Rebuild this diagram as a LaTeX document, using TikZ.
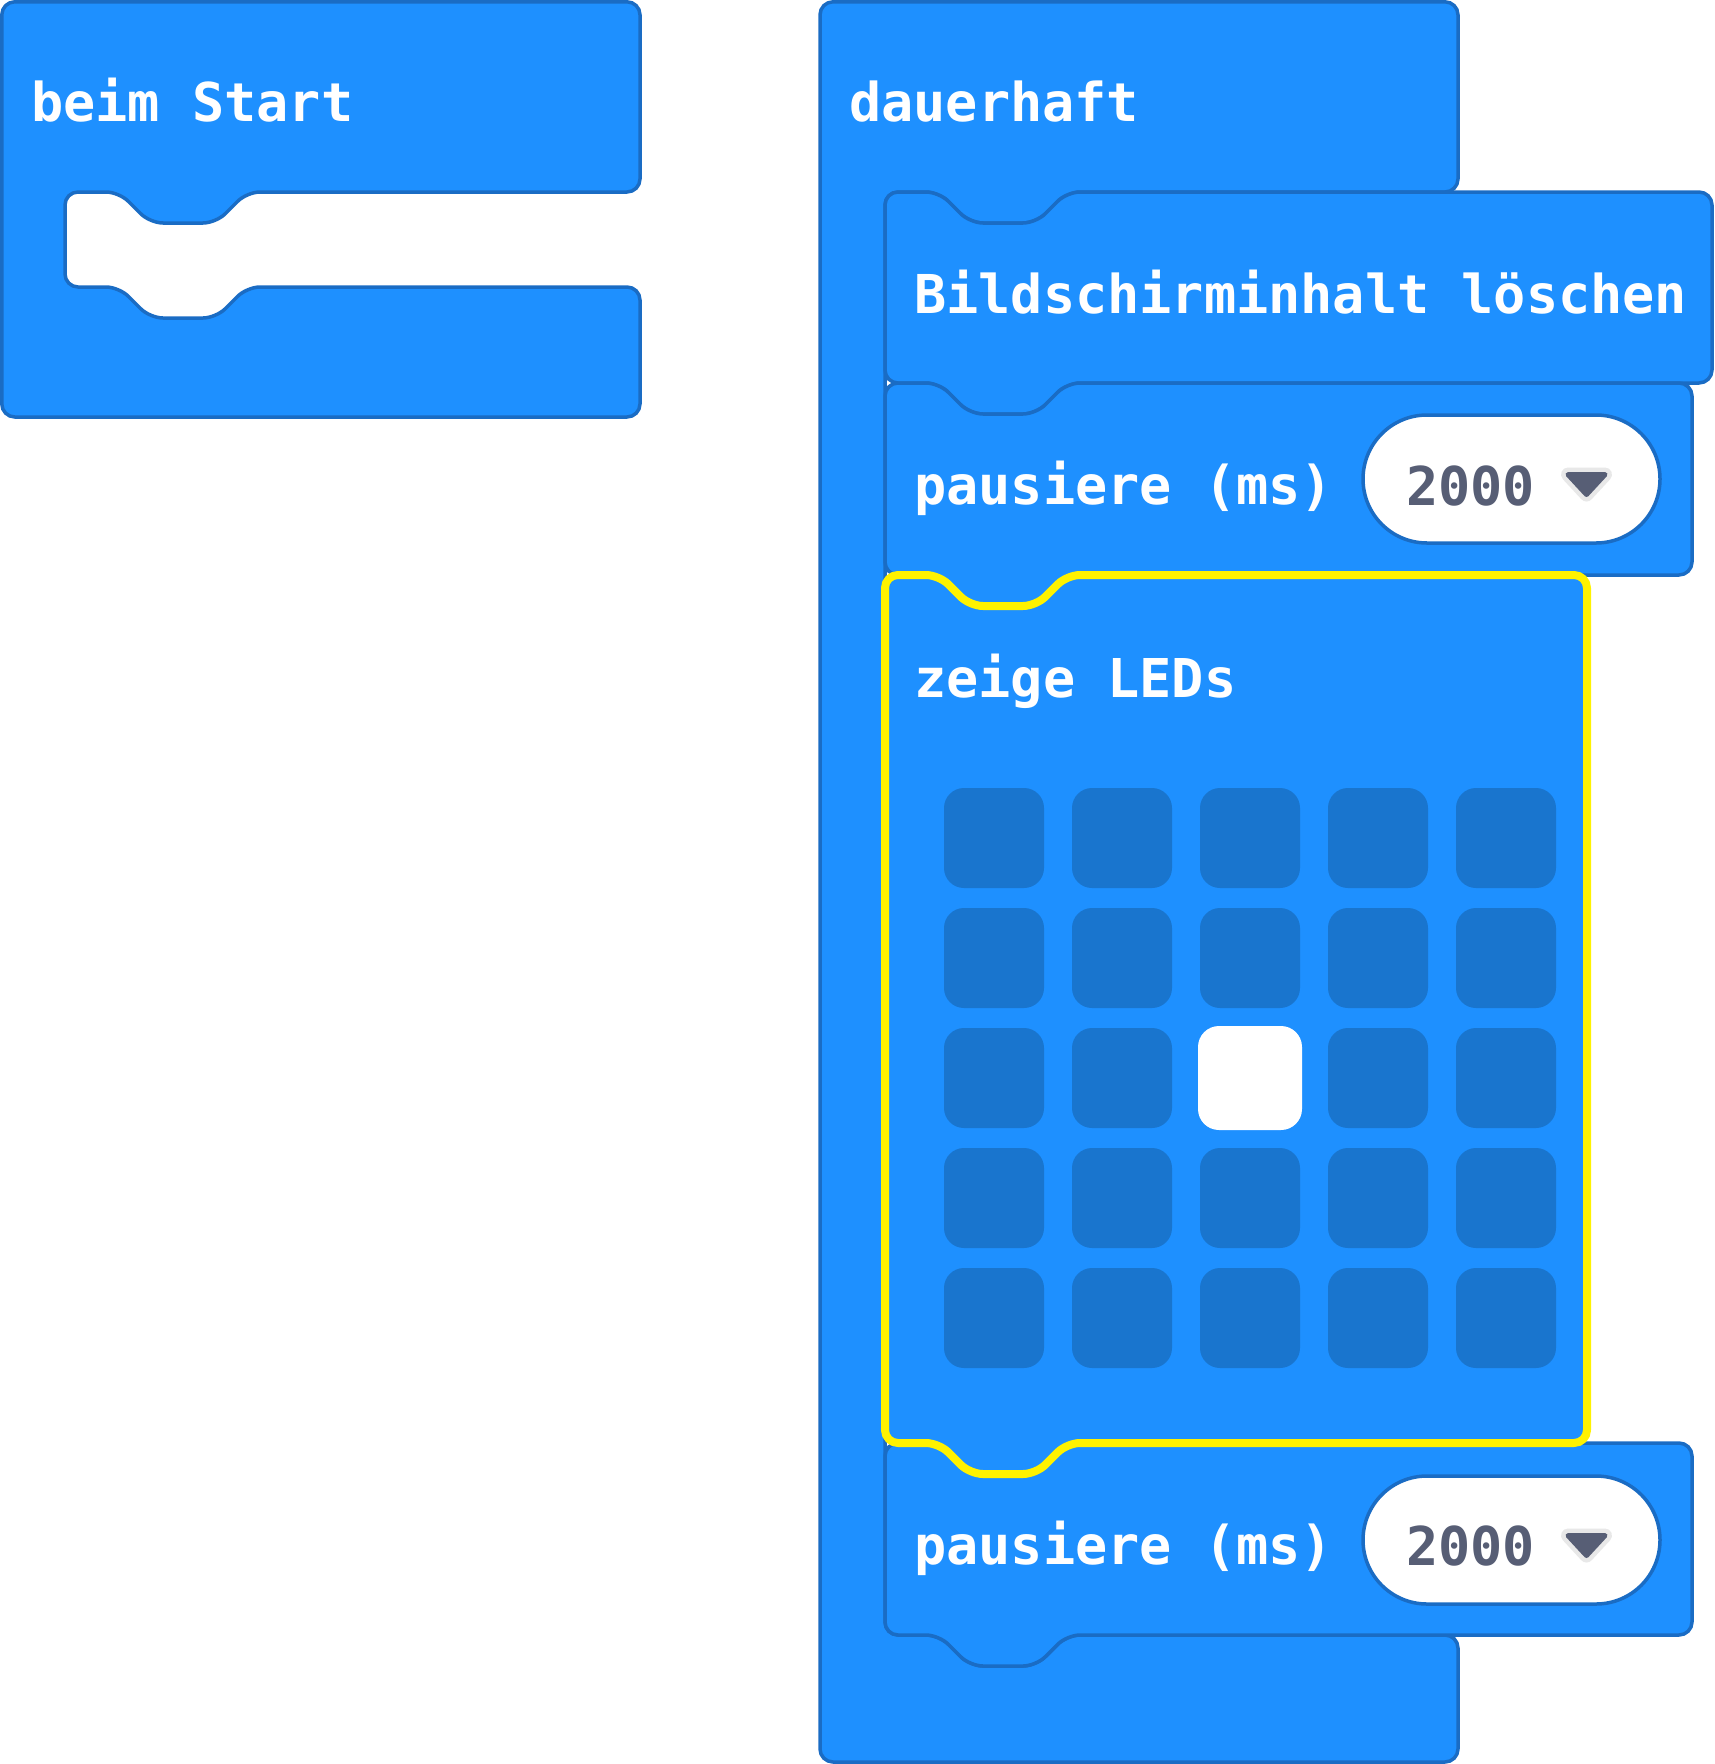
\documentclass[tikz,border=0pt]{standalone}
\usepackage{fontspec}
\newfontfamily\mcfont{DejaVu Sans Mono Bold}
\definecolor{blk}{RGB}{30,144,255}
\definecolor{blkline}{RGB}{26,108,196}
\definecolor{led}{RGB}{25,117,206}
\definecolor{sel}{RGB}{255,242,0}
\definecolor{drop}{RGB}{87,94,117}
\definecolor{dropedge}{RGB}{232,232,232}
\tikzset{
  block/.style={fill=blk, draw=blkline, line width=3.5pt, rounded corners=13pt, line join=round},
  selblock/.style={fill=blk, draw=sel, line width=8pt, rounded corners=13pt, line join=round},
  lbl/.style={anchor=base west, inner sep=0pt, text=white, font=\mcfont\fontsize{53.5}{60}\selectfont},
  numlbl/.style={lbl, text=drop},
  pill/.style={fill=white, draw=blkline, line width=3.5pt, rounded corners=64pt},
  ledoff/.style={fill=led, rounded corners=20pt},
  ledon/.style={fill=white, rounded corners=21pt},
  dropglow/.style={draw=dropedge, fill=dropedge, line width=14pt, line join=round},
  droptri/.style={draw=drop, fill=drop, line width=5pt, line join=round},
}
\begin{document}
\begin{tikzpicture}[x=1pt, y=-1pt]
\useasboundingbox (0,0) rectangle (1715,1764);
% beim Start (C-shaped hat block)
\draw[block] (1.8,1.8) -- (640,1.8) -- (640,192) -- (247,192) -- (216,223) -- (150,223) -- (119,192) -- (65,192) -- (65,287) -- (119,287) -- (150,318) -- (216,318) -- (247,287) -- (640,287) -- (640,417) -- (1.8,417) -- cycle;
% dauerhaft (C-shaped loop block)
\draw[block] (820,1.8) -- (1458,1.8) -- (1458,192) -- (1067,192) -- (1036,223) -- (970,223) -- (939,192) -- (885,192) -- (885,1635) -- (939,1635) -- (970,1666) -- (1036,1666) -- (1067,1635) -- (1458,1635) -- (1458,1762) -- (820,1762) -- cycle;
% Bildschirminhalt loeschen
\draw[block] (885,192) -- (939,192) -- (970,223) -- (1036,223) -- (1067,192) -- (1712,192) -- (1712,383) -- (1067,383) -- (1036,414) -- (970,414) -- (939,383) -- (885,383) -- cycle;
% pausiere 1
\draw[block] (885,383) -- (939,383) -- (970,414) -- (1036,414) -- (1067,383) -- (1692,383) -- (1692,575) -- (1067,575) -- (1036,606) -- (970,606) -- (939,575) -- (885,575) -- cycle;
% pausiere 2
\draw[block] (885,1443) -- (939,1443) -- (970,1474) -- (1036,1474) -- (1067,1443) -- (1692,1443) -- (1692,1635) -- (1067,1635) -- (1036,1666) -- (970,1666) -- (939,1635) -- (885,1635) -- cycle;
% zeige LEDs (selected)
\draw[selblock] (885,575) -- (939,575) -- (970,606) -- (1036,606) -- (1067,575) -- (1587,575) -- (1587,1443) -- (1067,1443) -- (1036,1474) -- (970,1474) -- (939,1443) -- (885,1443) -- cycle;
% LED grid
\foreach \i in {0,...,4} {
  \foreach \j in {0,...,4} {
    \fill[ledoff] ({944+128*\i},{788+120*\j}) rectangle +(100,100);
  }
}
\fill[ledon] (1198,1026) rectangle (1302,1130);
% value pills
\draw[pill] (1363,415) rectangle (1660,543);
\draw[pill] (1363,1476) rectangle (1660,1604);
\draw[dropglow] (1568,474.5) -- (1605,474.5) -- (1586.5,494.5) -- cycle;
\draw[droptri] (1568,474.5) -- (1605,474.5) -- (1586.5,494.5) -- cycle;
\draw[dropglow] (1568,1535.5) -- (1605,1535.5) -- (1586.5,1555.5) -- cycle;
\draw[droptri] (1568,1535.5) -- (1605,1535.5) -- (1586.5,1555.5) -- cycle;
% labels
\node[lbl] (startlbl) at (31,121) {beim Start};
\node[lbl] (foreverlbl) at (849,121) {dauerhaft};
\node[lbl] (clearlbl) at (914,313) {Bildschirminhalt löschen};
\node[lbl] (pauseAlbl) at (914,504) {pausiere (ms)};
\node[numlbl] (pauseAval) at (1406,505) {2000};
\node[lbl] (ledlbl) at (914,697) {zeige LEDs};
\node[lbl] (pauseBlbl) at (914,1564) {pausiere (ms)};
\node[numlbl] (pauseBval) at (1406,1565) {2000};
\end{tikzpicture}
\end{document}
